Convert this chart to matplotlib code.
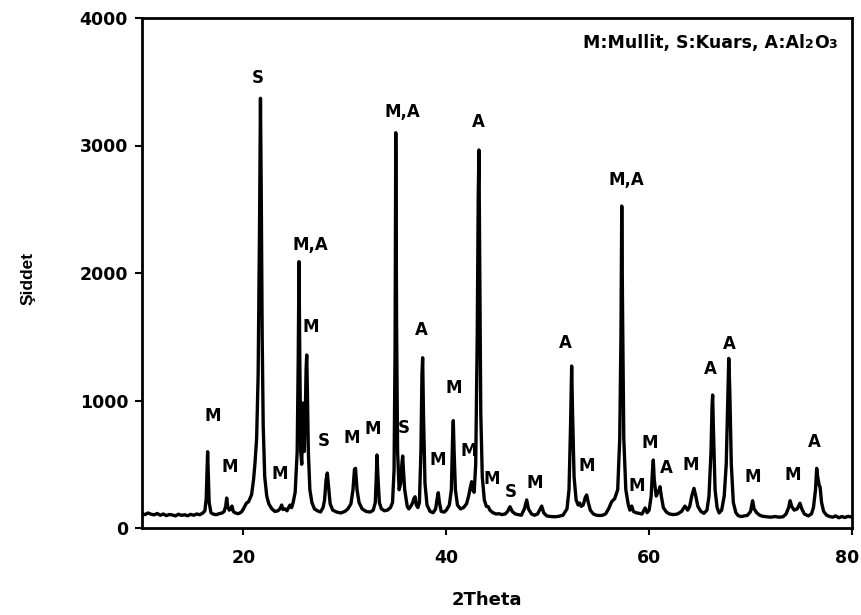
import matplotlib
matplotlib.use("Agg")
import matplotlib.pyplot as plt
import matplotlib.transforms as mtrans
from matplotlib.offsetbox import TextArea, HPacker, AnchoredOffsetbox

# XRD trace: 2-theta positions (degrees) and intensity (counts), read peak by peak
two_theta = [
    10.0, 10.3, 10.6, 10.9, 11.2, 11.5, 11.8, 12.1, 12.4, 12.7, 13.0, 13.3, 13.6, 13.9,
    14.2, 14.5, 14.8, 15.1, 15.4, 15.7, 16.0, 16.2, 16.33, 16.42, 16.47, 16.52, 16.62, 16.8,
    17.0, 17.3, 17.6, 17.9, 18.1, 18.25, 18.35, 18.45, 18.6, 18.75, 18.87, 19.0, 19.2, 19.5,
    19.8, 20.0, 20.3, 20.5, 20.8, 21.0, 21.14, 21.3, 21.45, 21.58, 21.68, 21.76, 21.85, 21.95,
    22.1, 22.3, 22.5,
    22.8, 23.1, 23.4, 23.6, 23.77, 23.9, 24.1, 24.3, 24.45, 24.59, 24.75, 24.9, 25.1, 25.3,
    25.4, 25.48, 25.55, 25.65, 25.75, 25.82, 25.87, 25.93, 26.0, 26.1, 26.18, 26.24, 26.3,
    26.4, 26.55, 26.75, 27.0, 27.3, 27.6, 27.85, 28.0, 28.15, 28.27, 28.4, 28.55, 28.8,
    29.2, 29.6, 30.0, 30.3, 30.6, 30.8, 30.95, 31.05, 31.2, 31.4, 31.7, 32.1, 32.5, 32.8,
    33.0, 33.1, 33.17, 33.25, 33.4, 33.6, 33.9, 34.2, 34.5, 34.7, 34.85, 34.95, 35.02, 35.1,
    35.2, 35.35, 35.5, 35.62, 35.7, 35.78, 35.9, 36.0, 36.15, 36.3,
    36.5, 36.7, 36.8, 36.92, 37.05, 37.2, 37.35, 37.5, 37.6, 37.67, 37.75, 37.9, 38.1, 38.4,
    38.7, 38.95, 39.1, 39.21, 39.32, 39.5, 39.8, 40.0, 40.3, 40.5, 40.62, 40.69, 40.77, 40.9,
    41.1, 41.4, 41.7, 42.0, 42.2, 42.4, 42.5, 42.6, 42.75, 42.9, 43.05, 43.15, 43.22, 43.3,
    43.4, 43.55, 43.75, 43.95, 44.14, 44.3,
    44.6, 44.9, 45.2, 45.5, 45.8, 46.05, 46.28, 46.5, 46.8, 47.1, 47.4, 47.7, 47.93, 48.1,
    48.4, 48.7, 49.0, 49.2, 49.41, 49.6, 49.9, 50.3, 50.7, 51.1, 51.5, 51.9, 52.1, 52.25,
    52.36, 52.45, 52.6, 52.8, 53.0,
    53.15, 53.3, 53.5, 53.7, 53.84, 54.0, 54.2, 54.5, 54.8, 55.1, 55.4, 55.7, 56.0, 56.3,
    56.6, 56.9, 57.1, 57.22, 57.3, 57.38, 57.5, 57.7, 57.95, 58.1, 58.28, 58.45, 58.7, 59.0,
    59.3, 59.6, 59.8, 60.0, 60.2, 60.33, 60.41, 60.5, 60.7, 60.85, 61.0, 61.07, 61.2, 61.4,
    61.7, 62.0, 62.4, 62.8, 63.2, 63.53, 63.8, 64.0, 64.2, 64.42, 64.6, 64.8, 65.1, 65.4,
    65.7, 65.9, 66.1, 66.2, 66.26, 66.33, 66.5, 66.7, 66.9, 67.15, 67.4, 67.6, 67.75, 67.85,
    67.95, 68.1, 68.3, 68.55, 68.8,
    69.1, 69.4, 69.7, 70.0, 70.2, 70.35, 70.6, 70.9, 71.2, 71.6, 72.0, 72.4, 72.8, 73.2,
    73.5, 73.75, 73.9, 74.05, 74.3, 74.6, 74.87, 75.05, 75.3, 75.7, 76.0, 76.2, 76.4, 76.52,
    76.62, 76.78, 76.85, 77.0, 77.2, 77.5, 77.8, 78.1, 78.4, 78.7, 79.0, 79.3, 79.6, 80.0,
]
intensity = [
    112, 105, 118, 108, 103, 114, 100, 110, 97, 106, 102, 95, 108, 99,
    104, 96, 107, 100, 110, 104, 118, 135, 230, 480, 598, 470, 200, 120,
    110, 104, 112, 118, 130, 170, 235, 170, 140, 150, 172, 130, 118, 112,
    125, 150, 196, 205, 260, 380, 510, 700, 1200, 2300, 3370, 2600, 1500, 800,
    400, 250, 190,
    150, 130, 135, 150, 180, 145, 150, 135, 160, 180, 160, 200, 280, 600,
    1300, 2089, 1400, 600, 500, 800, 980, 700, 600, 900, 1250, 1357, 1100,
    600, 300, 200, 150, 135, 125, 160, 220, 380, 431, 320, 190, 140,
    125, 118, 130, 150, 190, 300, 460, 468, 300, 200, 150, 130, 125, 140,
    200, 400, 573, 420, 200, 150, 135, 140, 160, 200, 450, 1400, 3100, 1600,
    600, 300, 350, 500, 565, 450, 300, 250, 170, 150,
    170, 200, 230, 245, 180, 160, 200, 600, 1200, 1335, 900, 350, 180, 130,
    120, 150, 230, 277, 200, 130, 125, 140, 180, 300, 700, 842, 600, 300,
    180, 150, 160, 190, 250, 330, 363, 300, 280, 500, 1500, 2600, 2965, 2000,
    900, 400, 220, 170, 167, 140,
    120, 110, 112, 105, 110, 130, 167, 130, 110, 105, 100, 150, 220, 150,
    110, 100, 110, 140, 172, 120, 95, 90, 88, 92, 100, 150, 300, 800,
    1270, 900, 400, 220, 180,
    196, 170, 180, 240, 259, 200, 140, 110, 100, 98, 100, 110, 150, 206,
    230, 300, 700, 1500, 2525, 1700, 700, 300, 180, 140, 172, 130, 120, 115,
    110, 157, 120, 140, 250, 450, 533, 380, 250, 280, 300, 324, 250, 160,
    125, 110, 105, 110, 130, 172, 140, 170, 250, 311, 250, 170, 130, 115,
    140, 250, 600, 950, 1043, 800, 300, 160, 118, 140, 250, 500, 1000, 1330,
    1080, 500, 200, 120, 95,
    90, 95, 100, 130, 214, 150, 120, 100, 92, 88, 85, 90, 85, 88,
    110, 160, 214, 170, 140, 150, 194, 150, 110, 95, 110, 160, 300, 468,
    400, 330, 324, 200, 130, 100, 90, 85, 95, 80, 90, 82, 92, 85,
]
assert len(two_theta) == len(intensity)

# Phase labels above the reflections
phase_text = ["M", "M", "S", "M", "M,A", "M", "S", "M", "M", "M,A", "S", "A", "M", "M",
              "M", "A", "M", "S", "M", "A", "M", "M,A", "M", "M", "A", "M", "A", "A",
              "M", "M", "A"]
phase_x = [17.0, 18.68, 21.44, 23.54, 26.56, 26.66, 27.87, 30.67, 32.74, 35.7, 35.83,
           37.5, 39.2, 40.69, 42.24, 43.2, 44.48, 46.35, 48.75, 51.7, 53.84, 57.8, 58.77,
           60.08, 61.73, 64.09, 66.07, 67.9, 70.2, 74.15, 76.25]
phase_y = [878, 476, 3529, 424, 2220, 1579, 685, 703, 774, 3263, 782, 1553, 533, 1098,
           606, 3184, 382, 285, 350, 1451, 486, 2729, 329, 669, 468, 494, 1245, 1440,
           398, 416, 677]

x_ticks = [20, 40, 60, 80]
y_ticks = [0, 1000, 2000, 3000, 4000]

W, H = 861, 615
fig = plt.figure(figsize=(W / 100, H / 100), dpi=100)
ax = fig.add_axes([142 / W, 87 / H, 710 / W, 510 / H])

ax.plot(two_theta, intensity, color="black", lw=2.4,
        solid_joinstyle="round", solid_capstyle="round")

ax.set_xlim(10, 80)
ax.set_ylim(0, 4000)
ax.set_xticks(x_ticks)
ax.set_yticks(y_ticks)

tick_font = dict(family="DejaVu Sans", weight="bold", size=12.5)
ax.set_xticklabels([str(v) for v in x_ticks], fontdict=tick_font)
ax.set_yticklabels([str(v) for v in y_ticks], fontdict=tick_font)
ax.tick_params(axis="both", direction="out", length=5, width=1.5, color="black")
ax.tick_params(axis="x", pad=10)
ax.tick_params(axis="y", pad=5)

# nudge the last x label inward so it stays inside the canvas
last = ax.xaxis.get_major_ticks()[-1].label1
last.set_transform(last.get_transform()
                   + mtrans.ScaledTranslation(-5 / 100, 0, fig.dpi_scale_trans))

for side in ["left", "bottom", "top", "right"]:
    ax.spines[side].set_linewidth(2.0)
    ax.spines[side].set_color("black")

ax.set_xlabel("2Theta", family="DejaVu Sans", weight="bold", size=13)
ax.xaxis.set_label_coords(0.486, -0.124)
ax.set_ylabel("Şiddet", family="Liberation Sans", weight="bold", size=12.5)
ax.yaxis.set_label_coords(-0.150, 0.49)

for t, x, y in zip(phase_text, phase_x, phase_y):
    ax.text(x, y, t, ha="center", va="center", family="DejaVu Sans",
            weight="bold", size=12)

# Phase key with smaller digits in Al2O3
big = dict(family="DejaVu Sans", weight="bold", size=12.5, color="black")
small = dict(family="DejaVu Sans", weight="bold", size=9, color="black")
pieces = [("M:Mullit, S:Kuars, A:Al", big), ("2", small), ("O", big), ("3", small)]
key = HPacker(children=[TextArea(s, textprops=p) for s, p in pieces],
              align="baseline", pad=0, sep=0)
anchored = AnchoredOffsetbox(loc="center right", child=key, pad=0, borderpad=0,
                             frameon=False, bbox_to_anchor=(0.979, 0.951),
                             bbox_transform=ax.transAxes)
ax.add_artist(anchored)

fig.savefig("out.png", dpi=100)
